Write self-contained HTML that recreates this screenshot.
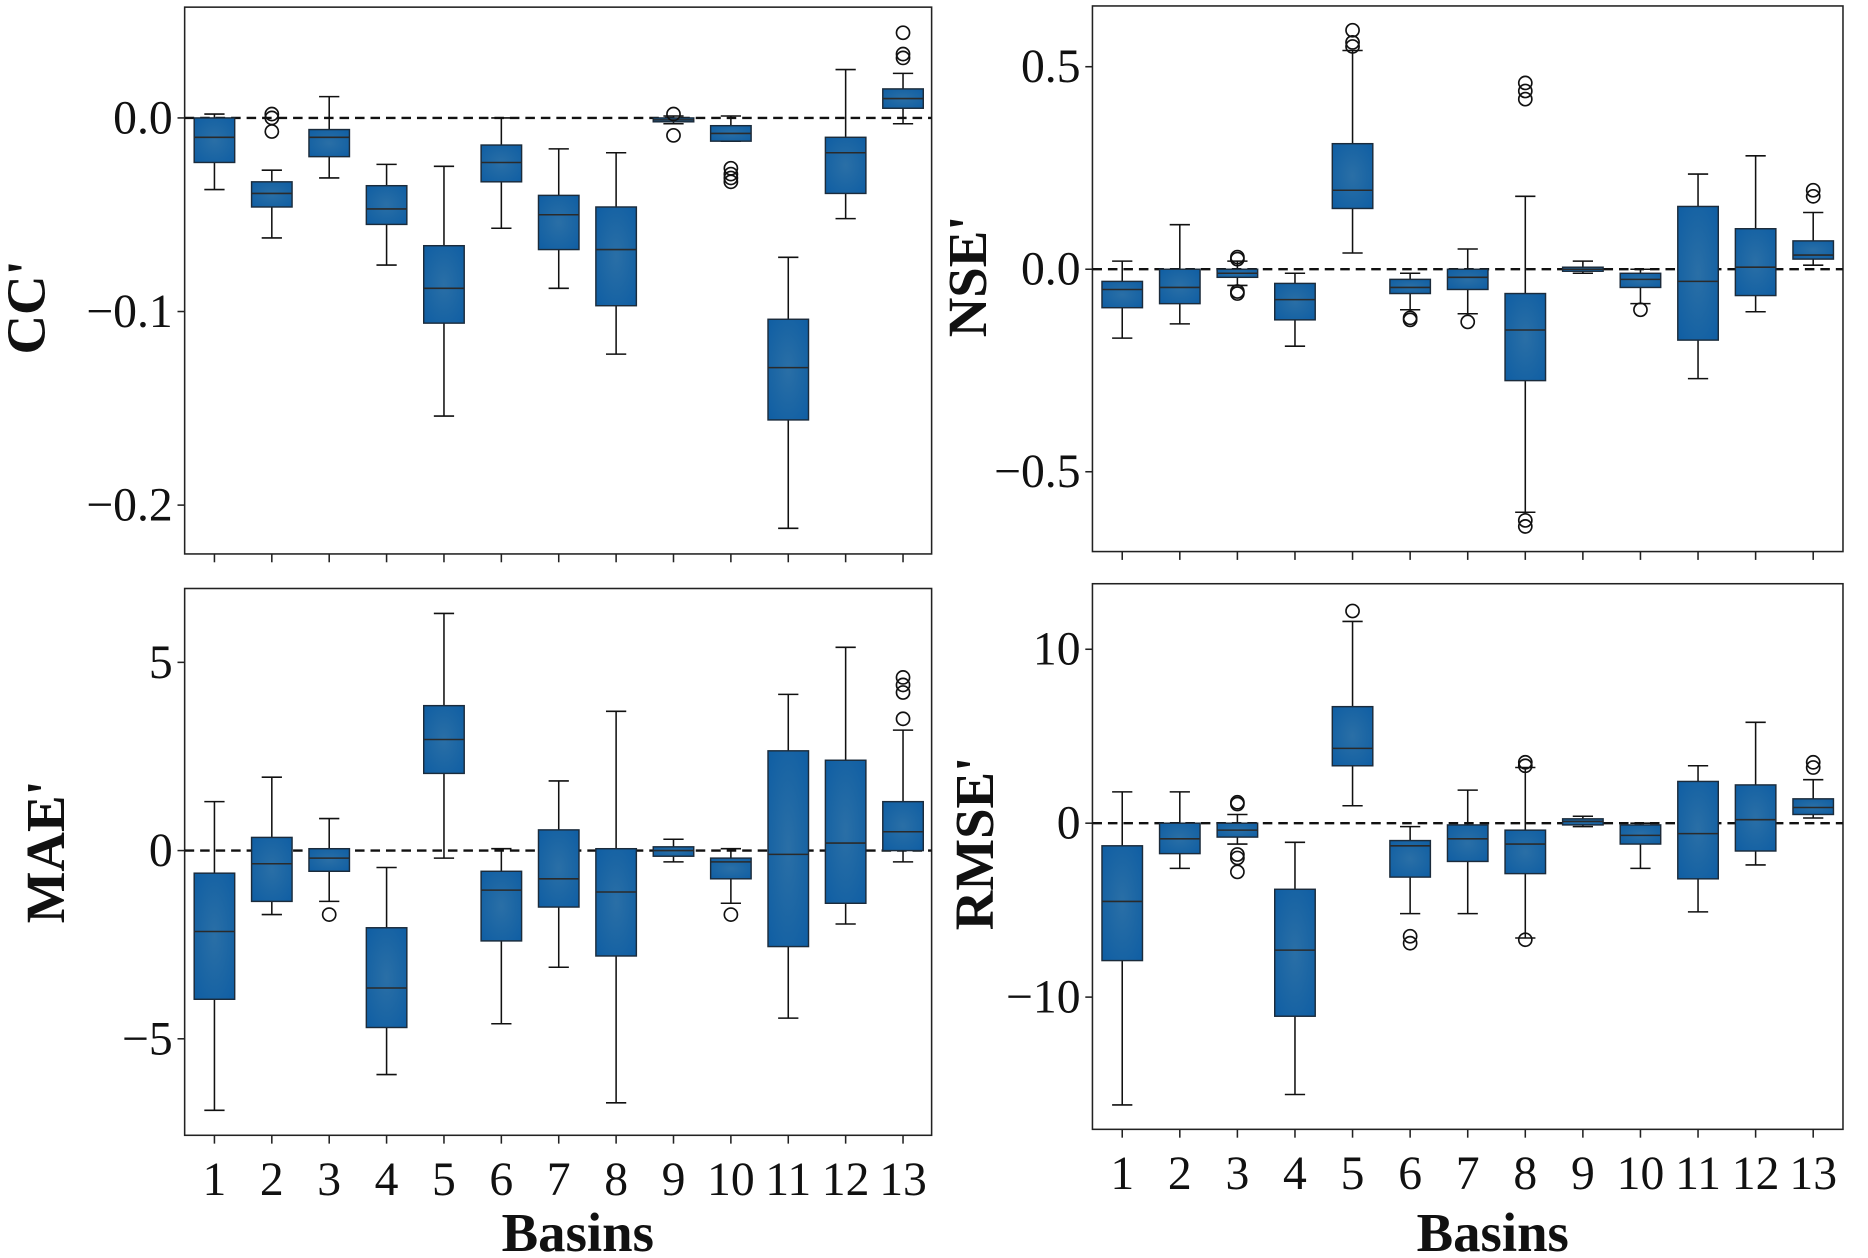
<!DOCTYPE html>
<html><head><meta charset="utf-8">
<style>
html,body{margin:0;padding:0;background:#fff;}
svg{display:block;font-family:"Liberation Serif",serif;}
</style></head>
<body>
<svg id="chart" width="1868" height="1258" viewBox="0 0 1568 1056" preserveAspectRatio="none" xmlns="http://www.w3.org/2000/svg">
<defs>
<radialGradient id="bg" cx="50%" cy="50%" r="70%">
<stop offset="0%" stop-color="#2a6fa6"/><stop offset="100%" stop-color="#0f5ea3"/>
</radialGradient>
</defs>
</svg>
<script>
const basins = ['1','2','3','4','5','6','7','8','9','10','11','12','13'];
// each row: [whisker low, q1, median, q3, whisker high]
const ccStats = [[-0.037,-0.023,-0.01,0.0,0.002],[-0.062,-0.046,-0.039,-0.033,-0.027],[-0.031,-0.020,-0.010,-0.006,0.011],[-0.076,-0.055,-0.047,-0.035,-0.024],[-0.154,-0.106,-0.088,-0.066,-0.025],[-0.057,-0.033,-0.023,-0.014,0.0],[-0.088,-0.068,-0.050,-0.040,-0.016],[-0.122,-0.097,-0.068,-0.046,-0.018],[-0.003,-0.002,-0.001,0.0,0.001],[-0.012,-0.012,-0.008,-0.004,0.001],[-0.212,-0.156,-0.129,-0.104,-0.072],[-0.052,-0.039,-0.018,-0.010,0.025],[-0.003,0.005,0.010,0.015,0.023]];
const ccOut = [[],[0.002,0.0,-0.007],[],[],[],[],[],[],[0.002,-0.009],[-0.026,-0.029,-0.031,-0.033],[],[],[0.031,0.033,0.044]];
const nseStats = [[-0.17,-0.095,-0.05,-0.03,0.02],[-0.135,-0.085,-0.045,0.0,0.11],[-0.04,-0.02,-0.01,0.0,0.02],[-0.19,-0.125,-0.075,-0.035,-0.01],[0.04,0.15,0.195,0.31,0.54],[-0.1,-0.06,-0.045,-0.025,-0.01],[-0.11,-0.05,-0.02,0.0,0.05],[-0.6,-0.275,-0.15,-0.06,0.18],[-0.01,-0.005,0.0,0.005,0.02],[-0.085,-0.045,-0.025,-0.01,0.0],[-0.27,-0.175,-0.03,0.155,0.235],[-0.105,-0.065,0.005,0.1,0.28],[0.01,0.025,0.035,0.07,0.14]];
const nseOut = [[],[],[0.025,0.03,-0.055,-0.06],[],[0.55,0.56,0.59],[-0.12,-0.125],[-0.13],[0.42,0.44,0.46,-0.62,-0.635],[],[-0.10],[],[],[0.18,0.195]];
const maeStats = [[-6.9,-3.95,-2.15,-0.6,1.3],[-1.7,-1.35,-0.35,0.35,1.95],[-1.35,-0.55,-0.2,0.05,0.85],[-5.95,-4.7,-3.65,-2.05,-0.45],[-0.2,2.05,2.95,3.85,6.3],[-4.6,-2.4,-1.05,-0.55,0.05],[-3.1,-1.5,-0.75,0.55,1.85],[-6.7,-2.8,-1.1,0.05,3.7],[-0.3,-0.15,0.0,0.1,0.3],[-1.4,-0.75,-0.3,-0.2,0.05],[-4.45,-2.55,-0.1,2.65,4.15],[-1.95,-1.4,0.2,2.4,5.4],[-0.3,0.0,0.5,1.3,3.2]];
const maeOut = [[],[],[-1.7],[],[],[],[],[],[],[-1.7],[],[],[3.5,4.2,4.4,4.6]];
const rmseStats = [[-16.2,-7.9,-4.5,-1.3,1.8],[-2.6,-1.75,-0.9,0.0,1.8],[-1.2,-0.8,-0.4,0.0,0.5],[-15.6,-11.1,-7.3,-3.8,-1.1],[1.0,3.3,4.3,6.7,11.6],[-5.2,-3.1,-1.3,-1.0,-0.2],[-5.2,-2.2,-0.9,-0.1,1.9],[-6.6,-2.9,-1.2,-0.4,3.2],[-0.2,-0.1,0.1,0.25,0.4],[-2.6,-1.2,-0.7,-0.1,0.0],[-5.1,-3.2,-0.6,2.4,3.3],[-2.4,-1.6,0.2,2.2,5.8],[0.3,0.5,0.9,1.4,2.5]];
const rmseOut = [[],[],[1.1,1.2,-1.8,-2.0,-2.8],[],[12.2],[-6.5,-6.9],[],[3.3,3.5,-6.7],[],[],[],[],[3.2,3.5]];
const ccTicks = [0.0,-0.1,-0.2], ccTickLabels = ['0.0','\u22120.1','\u22120.2'];
const nseTicks = [0.5,0.0,-0.5], nseTickLabels = ['0.5','0.0','\u22120.5'];
const maeTicks = [5,0,-5], maeTickLabels = ['5','0','\u22125'];
const rmseTicks = [10,0,-10], rmseTickLabels = ['10','0','\u221210'];

const NS='http://www.w3.org/2000/svg';
const svg=document.getElementById('chart');
function mk(tag,attrs,parent){const e=document.createElementNS(NS,tag);for(const k in attrs)e.setAttribute(k,attrs[k]);(parent||svg).appendChild(e);return e;}

const panels=[
 {id:'cc',stats:ccStats,out:ccOut,ticks:ccTicks,tl:ccTickLabels,x0:155,x1:782,y0:6,y1:465,v0:0,p0:99,v1:-0.2,p1:424,b1:180,b13:758,label:"CC'",lx:22,ly:258,xl:false},
 {id:'nse',stats:nseStats,out:nseOut,ticks:nseTicks,tl:nseTickLabels,x0:917,x1:1547,y0:5,y1:463,v0:0.5,p0:56,v1:-0.5,p1:396,b1:942,b13:1522,label:"NSE'",lx:812,ly:232,xl:false},
 {id:'mae',stats:maeStats,out:maeOut,ticks:maeTicks,tl:maeTickLabels,x0:155,x1:782,y0:494,y1:953,v0:5,p0:556,v1:-5,p1:872,b1:180,b13:758,label:"MAE'",lx:38,ly:715,xl:true,tx:485},
 {id:'rmse',stats:rmseStats,out:rmseOut,ticks:rmseTicks,tl:rmseTickLabels,x0:917,x1:1547,y0:490,y1:948,v0:10,p0:545,v1:-10,p1:837,b1:942,b13:1522,label:"RMSE'",lx:818,ly:708,xl:true,tx:1253}
];
panels.forEach(P=>{
 const g=mk('g',{});
 
 
 const y=v=>P.p0+(v-P.v0)*(P.p1-P.p0)/(P.v1-P.v0);
 const x=i=>P.b1+i*(P.b13-P.b1)/12;
 const frame=mk('rect',{x:P.x0,y:P.y0,width:P.x1-P.x0,height:P.y1-P.y0,fill:'#fff',stroke:'#222','stroke-width':1.3},g);
 
 
 const zl=mk('line',{x1:P.x0,x2:P.x1,y1:y(0),y2:y(0),stroke:'#111','stroke-width':2,'stroke-dasharray':'8,5'},g);
 
 
 P.ticks.forEach((t,i)=>{
  mk('line',{x1:P.x0-6,x2:P.x0,y1:y(t),y2:y(t),stroke:'#222','stroke-width':1.3},g);
  const tx=mk('text',{x:P.x0-10,y:y(t)+13,'text-anchor':'end','font-size':40,fill:'#111'},g);
  tx.textContent=P.tl[i];
  
  
 });
 const yl=mk('text',{x:P.lx,y:P.ly,transform:`rotate(-90 ${P.lx} ${P.ly})`,'text-anchor':'middle','dominant-baseline':'central','font-size':46,'font-weight':'bold',fill:'#111'},g);
 yl.textContent=P.label;
 
 
 const hw=17;
 basins.forEach((b,i)=>{
  const cx=x(i);
  mk('line',{x1:cx,x2:cx,y1:P.y1,y2:P.y1+7,stroke:'#222','stroke-width':1.3},g);
  if(P.xl){
   const t=mk('text',{x:cx,y:P.y1+50,'text-anchor':'middle','font-size':40,fill:'#111'},g);
   t.textContent=b;
   
   
  }
  const s=P.stats[i];
  const bg=mk('g',{},g);
  
  
  mk('line',{x1:cx,x2:cx,y1:y(s[0]),y2:y(s[1]),stroke:'#111','stroke-width':1.3},bg);
  mk('line',{x1:cx,x2:cx,y1:y(s[3]),y2:y(s[4]),stroke:'#111','stroke-width':1.3},bg);
  mk('line',{x1:cx-hw/2,x2:cx+hw/2,y1:y(s[0]),y2:y(s[0]),stroke:'#111','stroke-width':1.3},bg);
  mk('line',{x1:cx-hw/2,x2:cx+hw/2,y1:y(s[4]),y2:y(s[4]),stroke:'#111','stroke-width':1.3},bg);
  mk('rect',{x:cx-hw,y:y(s[3]),width:2*hw,height:Math.max(1,y(s[1])-y(s[3])),fill:'url(#bg)',stroke:'#1b2b3b','stroke-width':1.2},bg);
  mk('line',{x1:cx-hw,x2:cx+hw,y1:y(s[2]),y2:y(s[2]),stroke:'#2a2a2a','stroke-width':1.3},bg);
  P.out[i].forEach(o=>{
   const c=mk('circle',{cx:cx,cy:y(o),r:5.5,fill:'none',stroke:'#111','stroke-width':1.4},bg);
   
   
  });
 });
 if(P.xl){
  const xt=mk('text',{x:P.tx,y:1050,'text-anchor':'middle','font-size':46,'font-weight':'bold',fill:'#111'},g);
  xt.textContent='Basins';
  
  
 }
});
</script>
</body></html>
